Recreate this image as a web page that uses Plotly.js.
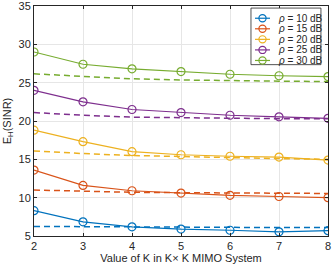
<!DOCTYPE html>
<html><head><meta charset="utf-8">
<script src="https://cdn.plot.ly/plotly-3.0.1.min.js"></script>
<style>html,body{margin:0;padding:0;background:#fff}#c{width:332px;height:265px}</style>
</head><body><div id="c"></div>
<script>
const K = [2, 3, 4, 5, 6, 7, 8];
const names = ['<i>ρ</i> = 10 dB', '<i>ρ</i> = 15 dB', '<i>ρ</i> = 20 dB', '<i>ρ</i> = 25 dB', '<i>ρ</i> = 30 dB'];
const colors = ['#0072BD', '#D95319', '#EDB120', '#7E2F8E', '#77AC30'];
const sim10 = [8.3, 6.85, 6.2, 5.9, 5.75, 5.55, 5.7];
const sim15 = [13.6, 11.6, 10.9, 10.6, 10.3, 10.15, 10.0];
const sim20 = [18.8, 17.3, 16.0, 15.6, 15.4, 15.3, 14.9];
const sim25 = [24.0, 22.5, 21.5, 21.1, 20.75, 20.55, 20.35];
const sim30 = [29.0, 27.4, 26.8, 26.45, 26.1, 25.9, 25.8];
const ana10 = [6.25, 6.2, 6.15, 6.12, 6.1, 6.1, 6.1];
const ana15 = [11.0, 10.85, 10.7, 10.65, 10.6, 10.55, 10.55];
const ana20 = [16.1, 15.75, 15.5, 15.35, 15.2, 15.1, 15.0];
const ana25 = [21.1, 20.75, 20.5, 20.4, 20.35, 20.3, 20.3];
const ana30 = [26.15, 25.8, 25.5, 25.35, 25.25, 25.2, 25.15];
const sims = [sim10, sim15, sim20, sim25, sim30];
const anas = [ana10, ana15, ana20, ana25, ana30];

const traces = [];
for (let i = 0; i < 5; i++) {
  traces.push({x: K, y: anas[i], mode: 'lines', showlegend: false,
    line: {color: colors[i], width: 1.5, dash: '6px,4px'}});
}
for (let i = 0; i < 5; i++) {
  traces.push({x: K, y: sims[i], mode: 'lines+markers', name: names[i], showlegend: false,
    line: {color: colors[i], width: 1.2},
    marker: {symbol: 'circle-open', size: 8, color: colors[i], line: {width: 1.2, color: colors[i]}}});
}

// Custom compact legend (MATLAB style) drawn with shapes + annotations in paper coords
const shapes = [{type: 'rect', xref: 'paper', yref: 'paper', x0: 0.738, x1: 0.976, y0: 0.745, y1: 0.991,
  fillcolor: '#fff', line: {color: '#262626', width: 0.8}, layer: 'above'}];
const annotations = [];
const rowTop = 0.9468, rowStep = 0.0459;
for (let i = 0; i < 5; i++) {
  const yy = rowTop - i * rowStep;
  shapes.push({type: 'line', xref: 'paper', yref: 'paper', x0: 0.7517, x1: 0.8027, y0: yy, y1: yy,
    line: {color: colors[i], width: 1.2}, layer: 'above'});
  shapes.push({type: 'circle', xref: 'paper', yref: 'paper', xsizemode: 'pixel', ysizemode: 'pixel',
    xanchor: 0.7772, yanchor: yy, x0: -3.6, x1: 3.6, y0: -3.6, y1: 3.6,
    fillcolor: 'rgba(0,0,0,0)', line: {color: colors[i], width: 1.2}, layer: 'above'});
  annotations.push({xref: 'paper', yref: 'paper', x: 0.8231, y: yy, xanchor: 'left', yanchor: 'middle',
    text: names[i], showarrow: false, font: {size: 10, color: '#262626'}});
}

const ax = {showline: true, linecolor: '#262626', linewidth: 1, mirror: 'allticks', ticks: 'inside', ticklen: 3,
  tickcolor: '#262626', showgrid: true, gridcolor: '#e6e6e6', gridwidth: 1, zeroline: false,
  ticklabeloverflow: 'allow',
  tickfont: {family: 'Liberation Sans, Arial, sans-serif', size: 11, color: '#262626'}};
const layout = {
  width: 332, height: 265, margin: {l: 34, r: 4, t: 6, b: 29},
  paper_bgcolor: '#fff', plot_bgcolor: '#fff',
  font: {family: 'Liberation Sans, Arial, sans-serif', color: '#262626'},
  xaxis: Object.assign({}, ax, {range: [2, 8], dtick: 1,
    title: {text: 'Value of K in K× K MIMO System', font: {size: 11, color: '#262626'}, standoff: 2}}),
  yaxis: Object.assign({}, ax, {range: [5, 35], dtick: 5,
    title: {text: 'E<sub>H</sub>(SINR)', font: {size: 11, color: '#262626'}, standoff: 4}}),
  shapes: shapes, annotations: annotations,
  showlegend: false
};
Plotly.newPlot('c', traces, layout, {displayModeBar: false, staticPlot: true});
</script></body></html>
